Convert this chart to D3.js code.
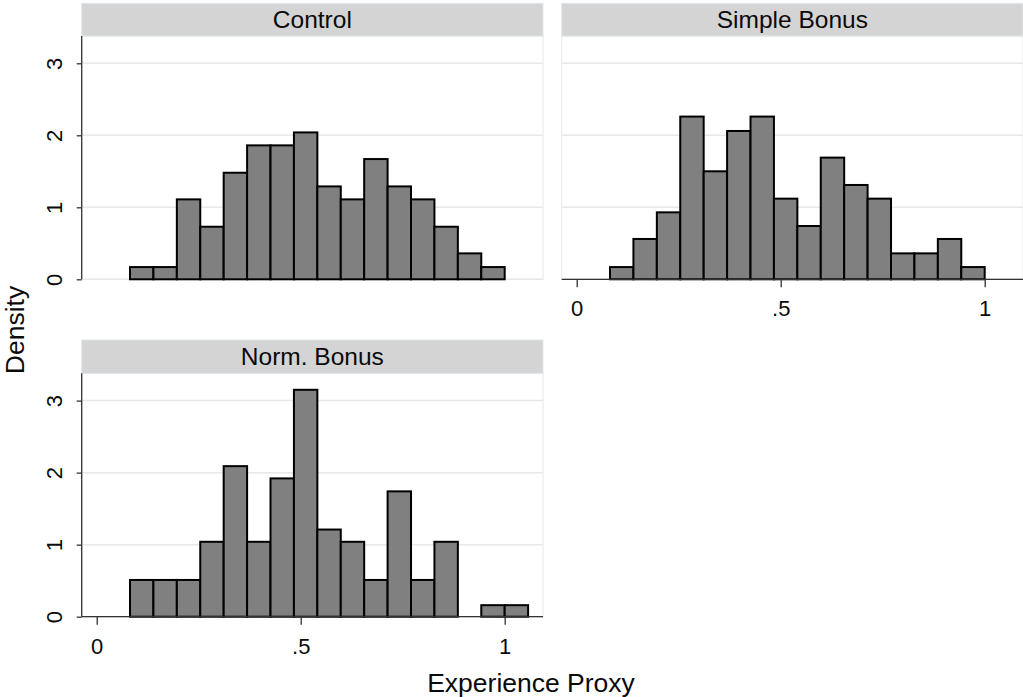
<!DOCTYPE html>
<html>
<head>
<meta charset="utf-8">
<script src="https://cdn.jsdelivr.net/npm/d3@7"></script>
<style>
  html, body { margin: 0; padding: 0; background: #ffffff; }
  svg { display: block; font-family: "Liberation Sans", Arial, sans-serif; }
</style>
</head>
<body>
<svg id="chart" width="1023" height="697"></svg>
<script>
// ---- data ----
const panelNames = ["Control", "Simple Bonus", "Norm. Bonus"];
const controlDensity = [0.17, 0.17, 1.11, 0.73, 1.48, 1.86, 1.86, 2.04, 1.29, 1.11, 1.67, 1.29, 1.11, 0.73, 0.36, 0.17];
const simpleDensity  = [0.17, 0.56, 0.93, 2.26, 1.50, 2.06, 2.26, 1.12, 0.74, 1.69, 1.31, 1.12, 0.36, 0.36, 0.56, 0.17];
const normDensity    = [0.51, 0.51, 0.51, 1.04, 2.09, 1.04, 1.92, 3.15, 1.21, 1.04, 0.51, 1.74, 0.51, 1.04, 0, 0.16, 0.16];
const binStart = 0.0816;
const binWidth = 0.0574;
const xTicks = [0, 0.5, 1];
const xTickLabels = ["0", ".5", "1"];
const yTicks = [0, 1, 2, 3];
const yTickLabels = ["0", "1", "2", "3"];
const xTitle = "Experience Proxy";
const yTitle = "Density";

// ---- layout ----
const svg = d3.select("#chart");
const cols = [[81.7, 543], [561.7, 1023]];
const rows = [{stripTop: 3.3, stripBottom: 36, plotBottom: 279.3},
              {stripTop: 340, stripBottom: 373.3, plotBottom: 616.7}];
const xDomain = [-0.0368, 1.0939];
const yMax = 3.379;

const panels = [
  {name: panelNames[0], data: controlDensity, col: 0, row: 0, yAxis: true,  xAxis: false},
  {name: panelNames[1], data: simpleDensity,  col: 1, row: 0, yAxis: false, xAxis: true},
  {name: panelNames[2], data: normDensity,    col: 0, row: 1, yAxis: true,  xAxis: true}
];

panels.forEach(p => {
  const [x0, x1] = cols[p.col];
  const r = rows[p.row];
  const x = d3.scaleLinear().domain(xDomain).range([x0, x1]);
  const y = d3.scaleLinear().domain([0, yMax]).range([r.plotBottom, r.stripBottom]);
  const g = svg.append("g");

  // plot region
  g.append("rect")
    .attr("x", x0).attr("y", r.stripBottom)
    .attr("width", x1 - x0).attr("height", r.plotBottom - r.stripBottom)
    .attr("fill", "#ffffff").attr("stroke", "#e8e8e8").attr("stroke-width", 1);

  // gridlines
  g.selectAll("line.grid").data(yTicks).enter().append("line")
    .attr("x1", x0).attr("x2", x1)
    .attr("y1", d => y(d)).attr("y2", d => y(d))
    .attr("stroke", "#e8e8e8").attr("stroke-width", 1.5);

  // strip
  g.append("rect")
    .attr("x", x0).attr("y", r.stripTop)
    .attr("width", x1 - x0).attr("height", r.stripBottom - r.stripTop)
    .attr("fill", "#d4d4d4").attr("stroke", "#dfe7ea").attr("stroke-width", 1);
  g.append("text")
    .attr("x", (x0 + x1) / 2)
    .attr("y", (r.stripTop + r.stripBottom) / 2)
    .attr("dy", "0.35em")
    .attr("text-anchor", "middle")
    .attr("font-size", 24.5)
    .attr("fill", "#0a0a0a")
    .text(p.name);

  // bars
  g.selectAll("rect.bar").data(p.data).enter().append("rect")
    .attr("class", "bar")
    .attr("x", (d, i) => x(binStart + i * binWidth))
    .attr("width", (d, i) => x(binStart + (i + 1) * binWidth) - x(binStart + i * binWidth))
    .attr("y", d => y(d))
    .attr("height", d => y(0) - y(d))
    .attr("fill", d => d > 0 ? "#808080" : "none")
    .attr("stroke", d => d > 0 ? "#000000" : "none")
    .attr("stroke-width", 2);

  // y axis
  if (p.yAxis) {
    const ya = g.append("g")
      .attr("transform", `translate(${x0},0)`)
      .call(d3.axisLeft(y).tickValues(yTicks).tickFormat((d, i) => yTickLabels[i]).tickSize(5).tickSizeOuter(0));
    ya.select(".domain").attr("stroke", "#333").attr("stroke-width", 1.3)
      .attr("d", `M0,${r.stripBottom}V${r.plotBottom}`);
    ya.selectAll(".tick line").attr("stroke", "#333").attr("stroke-width", 1.3);
    ya.selectAll(".tick text")
      .attr("transform", "rotate(-90)")
      .attr("x", 0).attr("y", -20).attr("dy", 0)
      .attr("text-anchor", "middle")
      .attr("font-size", 22)
      .attr("font-family", "Liberation Sans, Arial, sans-serif")
      .attr("fill", "#0a0a0a");
  }

  // x axis
  if (p.xAxis) {
    const xa = g.append("g")
      .attr("transform", `translate(0,${r.plotBottom})`)
      .call(d3.axisBottom(x).tickValues(xTicks).tickFormat((d, i) => xTickLabels[i]).tickSize(8).tickSizeOuter(0));
    xa.select(".domain").attr("stroke", "#333").attr("stroke-width", 1.3)
      .attr("d", `M${x0},0H${x1}`);
    xa.selectAll(".tick line").attr("stroke", "#333").attr("stroke-width", 1.3);
    xa.selectAll(".tick text")
      .attr("y", 37).attr("dy", 0)
      .attr("font-size", 22)
      .attr("font-family", "Liberation Sans, Arial, sans-serif")
      .attr("fill", "#0a0a0a");
  }
});

// axis titles
svg.append("text")
  .attr("x", 531).attr("y", 692)
  .attr("text-anchor", "middle")
  .attr("font-size", 26.5)
  .attr("fill", "#0a0a0a")
  .text(xTitle);

svg.append("text")
  .attr("transform", "translate(24,330) rotate(-90)")
  .attr("text-anchor", "middle")
  .attr("font-size", 26.5)
  .attr("fill", "#0a0a0a")
  .text(yTitle);
</script>
</body>
</html>
